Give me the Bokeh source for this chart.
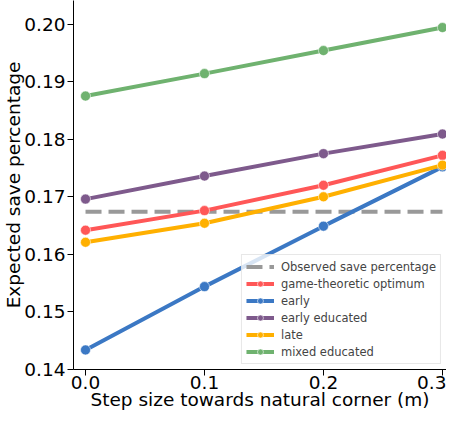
from bokeh.plotting import figure
from bokeh.models import FixedTicker, PrintfTickFormatter, Legend, LegendItem, Range1d
from bokeh.embed import file_html
from bokeh.resources import INLINE

steps = [0.0, 0.1, 0.2, 0.3]
observed = 0.1674
series_names = ["game-theoretic optimum", "early", "early educated", "late", "mixed educated"]
game_theoretic = [0.1642, 0.1676, 0.1720, 0.1772]
early = [0.1434, 0.1544, 0.1649, 0.1752]
early_educated = [0.1696, 0.1736, 0.1775, 0.1809]
late = [0.1621, 0.1654, 0.1700, 0.1755]
mixed_educated = [0.1875, 0.1914, 0.1954, 0.1994]
x_ticks = [0.0, 0.1, 0.2, 0.3]
y_ticks = [0.14, 0.15, 0.16, 0.17, 0.18, 0.19, 0.20]

colors = ["#ff5757", "#3b78c4", "#7e5a8c", "#ffb000", "#6fb26f"]
values = [game_theoretic, early, early_educated, late, mixed_educated]

FONT = "DejaVu Sans"

p = figure(width=446, height=412, output_backend="svg", toolbar_location=None,
           x_range=Range1d(-0.0101, 0.3034), y_range=Range1d(0.14, 0.2041),
           min_border_left=55, min_border_right=0, min_border_top=0, min_border_bottom=30)
p.outline_line_color = None
p.xgrid.visible = False
p.ygrid.visible = False
p.background_fill_color = "white"

for ax in (p.xaxis, p.yaxis):
    ax.major_label_text_font = FONT
    ax.major_label_text_font_size = "18.5px"
    ax.axis_label_text_font = FONT
    ax.axis_label_text_font_size = "18.5px"
    ax.axis_label_text_font_style = "normal"
    ax.major_tick_in = 0
    ax.major_tick_out = 6
    ax.minor_tick_out = 0
    ax.minor_tick_in = 0
    ax.axis_line_color = "black"
    ax.major_tick_line_color = "black"
    ax.major_label_text_color = "black"
    ax.axis_label_text_color = "black"

p.xaxis.major_label_standoff = 0
p.xaxis.axis_label_standoff = -3
p.yaxis.major_label_standoff = 2
p.yaxis.axis_label_standoff = -3

p.xaxis.ticker = FixedTicker(ticks=x_ticks)
p.yaxis.ticker = FixedTicker(ticks=y_ticks)
p.xaxis.formatter = PrintfTickFormatter(format="%.1f")
p.yaxis.formatter = PrintfTickFormatter(format="%.2f")
p.xaxis.axis_label = "Step size towards natural corner (m)"
p.yaxis.axis_label = "Expected save percentage"

items = []
obs = p.line([steps[0], steps[-1]], [observed, observed], line_color="#999999",
             line_width=4, line_dash="16 7")
items.append(LegendItem(label="Observed save percentage", renderers=[obs]))

for name, vals, c in zip(series_names, values, colors):
    r1 = p.line(steps, vals, line_color=c, line_width=4)
    r2 = p.scatter(steps, vals, marker="circle", size=10, fill_color=c,
                   line_color="white", line_alpha=0.55, line_width=1)
    items.append(LegendItem(label=name, renderers=[r1, r2]))

legend = Legend(items=items, location="bottom_right", margin=5,
                label_text_font=FONT, label_text_font_size="11.5px",
                glyph_width=28, glyph_height=15, label_height=15, spacing=2,
                padding=4, label_standoff=7,
                border_line_color="#d0d0d0", border_line_width=1,
                background_fill_alpha=0.8)
p.add_layout(legend, "center")

open("out.html", "w").write(file_html(p, INLINE))
